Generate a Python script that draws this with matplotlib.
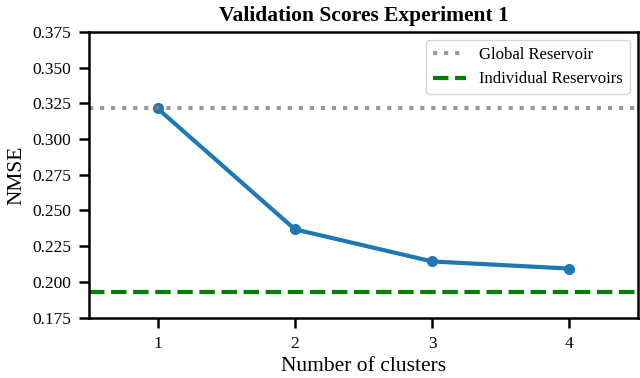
import numpy as np
import matplotlib.pyplot as plt

plt.rcParams['font.family'] = ['Liberation Serif', 'DejaVu Serif']

# Data
clusters = [1, 2, 3, 4]
nmse = [0.3215, 0.2368, 0.2143, 0.2093]
global_reservoir = 0.3215
individual_reservoirs = 0.1932

fig, ax = plt.subplots(figsize=(6.4, 3.78), dpi=100)
ax.plot(clusters, nmse, color='#1f77b4', linewidth=3, marker='o', markersize=7)
ax.axhline(global_reservoir, color='grey', linestyle=':', linewidth=3, alpha=0.8, label='Global Reservoir')
ax.axhline(individual_reservoirs, color='green', linestyle='--', linewidth=3, label='Individual Reservoirs')

ax.set_xlim(0.5, 4.5)
ax.set_ylim(0.175, 0.375)
ax.set_xticks(clusters)
ax.set_yticks(np.arange(0.175, 0.376, 0.025))
ax.set_yticklabels([f'{v:.3f}' for v in np.arange(0.175, 0.376, 0.025)])
ax.tick_params(axis='both', labelsize=12.5, length=7, width=1.8, direction='out', pad=6)
for s in ax.spines.values():
    s.set_linewidth(1.8)

ax.set_xlabel('Number of clusters', fontsize=15.5)
ax.set_ylabel('NMSE', fontsize=15.5)
ax.set_title('Validation Scores Experiment 1', fontsize=15.5, fontweight='bold', pad=8)
ax.legend(loc='upper right', fontsize=12, handlelength=2.0)

fig.subplots_adjust(left=0.139, right=0.997, top=0.915, bottom=0.16)
fig.savefig('out.png')
